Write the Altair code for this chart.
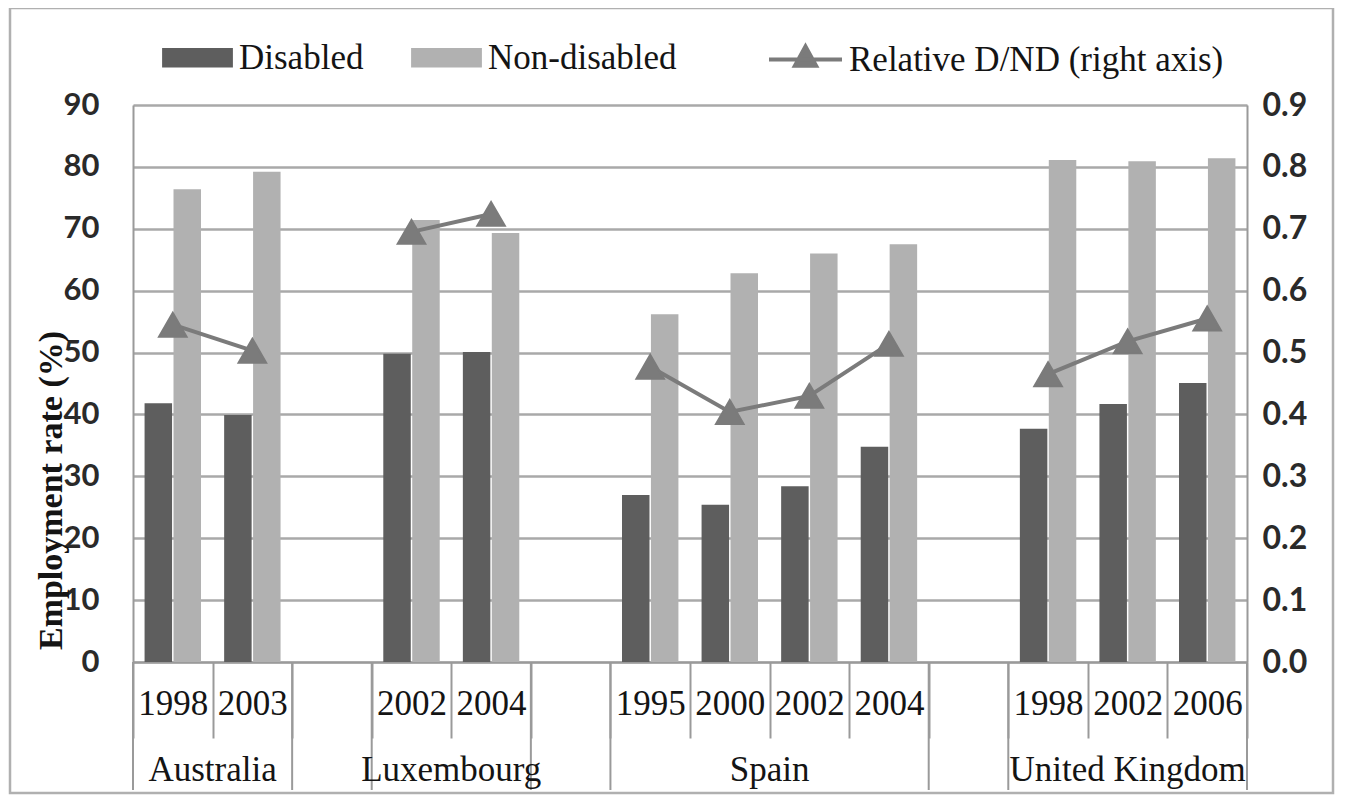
import altair as alt
import pandas as pd

# ---------------- data ----------------
country_order = ["Australia", "Luxembourg", "Spain", "United Kingdom"]
countries = ["Australia", "Australia", "Luxembourg", "Luxembourg",
             "Spain", "Spain", "Spain", "Spain",
             "United Kingdom", "United Kingdom", "United Kingdom"]
years = ["1998", "2003", "2002", "2004", "1995", "2000", "2002", "2004",
         "1998", "2002", "2006"]
disabled = [41.8, 39.9, 49.8, 50.1, 27.0, 25.4, 28.4, 34.8, 37.7, 41.7, 45.1]
non_disabled = [76.4, 79.2, 71.4, 69.3, 56.2, 62.8, 66.0, 67.5, 81.1, 80.9, 81.4]
relative = [0.545, 0.503, 0.695, 0.724, 0.477, 0.404, 0.430, 0.514, 0.465, 0.518, 0.555]

series_names = ["Disabled", "Non-disabled", "Relative D/ND (right axis)"]
series_colors = ["#5e5e5e", "#b1b1b1", "#7b7b7b"]
left_ticks = list(range(0, 91, 10))
right_ticks = [round(i * 0.1, 1) for i in range(10)]

# ---------------- derived tables ----------------
slot_ids = [f"{c}|{y}" for c, y in zip(countries, years)]
slots = []
for i, c in enumerate(country_order):
    slots += [s for s, cc in zip(slot_ids, countries) if cc == c]
    if i < len(country_order) - 1:
        slots.append(f"gap{i}|")

bars_df = pd.DataFrame({
    "slot": slot_ids * 2,
    "series": [series_names[0]] * len(slot_ids) + [series_names[1]] * len(slot_ids),
    "value": disabled + non_disabled,
})
ratio_df = pd.DataFrame({"slot": slot_ids, "country": countries,
                         "series": series_names[2], "relative": relative})

first_slots = [next(s for s, cc in zip(slot_ids, countries) if cc == c) for c in country_order]
gap_slots = [s for s in slots if s.startswith("gap")]
left_edges = pd.DataFrame({"slot": first_slots + gap_slots})
right_edge = pd.DataFrame({"slot": [slots[-1]]})

even_anchor, odd_anchor = [], []
for c in country_order:
    cs = [s for s, cc in zip(slot_ids, countries) if cc == c]
    (even_anchor if len(cs) % 2 == 0 else odd_anchor).append({"slot": cs[len(cs) // 2], "country": c})
even_df = pd.DataFrame(even_anchor)
odd_df = pd.DataFrame(odd_anchor)

# ---------------- styling ----------------
W, H = 1114, 557
GRID = "#a9a9a9"
AX = "#9a9a9a"
SERIF = "Liberation Serif"
SANS = "Lato"
TXT = "#141414"
FS = 35

xscale = alt.Scale(domain=slots, paddingInner=0, paddingOuter=0)

rect_path = "M-0.97,-0.27H0.97V0.27H-0.97Z"
line_path = "M-1,0H1M0,-0.36L0.29,0.17H-0.29Z"

bar_legend = alt.Legend(
    orient="none", legendX=28, legendY=-84, direction="horizontal", title=None,
    labelFont=SERIF, labelFontSize=FS, labelColor=TXT, labelOffset=5, labelLimit=600,
    symbolSize=5329, symbolType=rect_path, symbolStrokeWidth=0, columnPadding=46,
)
line_legend = alt.Legend(
    orient="none", legendX=634, legendY=-84, direction="horizontal", title=None,
    labelFont=SERIF, labelFontSize=FS, labelColor=TXT, labelOffset=5, labelLimit=600,
    symbolSize=5329, symbolType=line_path, symbolStrokeWidth=4,
    symbolFillColor=series_colors[2], symbolStrokeColor=series_colors[2],
)

x_axis = alt.Axis(
    title=None, labelAngle=0,
    labelExpr="split(datum.label, '|')[1]",
    labelFont=SERIF, labelFontSize=FS, labelColor=TXT, labelBaseline="middle",
    labelPadding=-35, labelOverlap=False, labelLimit=200,
    tickBand="extent", tickSize=76, tickColor=AX, tickWidth=2,
    domainColor=AX, domainWidth=2, grid=False,
)


def xenc(band=None):
    kw = dict(scale=xscale, axis=x_axis, sort=slots)
    if band is not None:
        kw["bandPosition"] = band
    return alt.X("slot:N", **kw)


bars = alt.Chart(bars_df).mark_bar().encode(
    x=xenc(),
    xOffset=alt.XOffset("series:N", sort=series_names[:2],
                        scale=alt.Scale(paddingInner=0.05, paddingOuter=0.4)),
    y=alt.Y("value:Q", scale=alt.Scale(domain=[0, 90], nice=False),
            axis=alt.Axis(values=left_ticks, title="Employment rate (%)",
                          titleFont=SERIF, titleFontSize=34, titleFontWeight="bold",
                          titleColor=TXT, titleAngle=270, titleX=-72, titleY=385,
                          titleAlign="center", titleBaseline="alphabetic",
                          labelFont=SANS, labelFontWeight="bold", labelFontSize=31,
                          labelColor="#2a2a2a", labelPadding=34, ticks=False,
                          domainColor=AX, domainWidth=2,
                          grid=True, gridColor=GRID, gridWidth=2.5)),
    color=alt.Color("series:N",
                    scale=alt.Scale(domain=series_names[:2], range=series_colors[:2]),
                    legend=bar_legend),
)

line = alt.Chart(ratio_df).mark_line(
    strokeWidth=4,
    point=alt.OverlayMarkDef(shape="triangle-up", size=760, filled=True,
                             fill=series_colors[2], opacity=1),
).encode(
    x=xenc(),
    y=alt.Y("relative:Q", scale=alt.Scale(domain=[0, 0.9], nice=False),
            axis=alt.Axis(orient="right", values=right_ticks, format=".1f", title=None,
                          labelFont=SANS, labelFontWeight="bold", labelFontSize=32,
                          labelColor="#2a2a2a", labelPadding=15, ticks=False,
                          domainColor=AX, domainWidth=2, grid=False)),
    stroke=alt.Stroke("series:N",
                      scale=alt.Scale(domain=series_names[2:], range=series_colors[2:]),
                      legend=line_legend),
    detail="country:N",
)

sep_left = alt.Chart(left_edges).mark_rule(color=AX, strokeWidth=2).encode(
    x=xenc(0), y=alt.value(H), y2=alt.value(H + 128),
)
sep_right = alt.Chart(right_edge).mark_rule(color=AX, strokeWidth=2).encode(
    x=xenc(1), y=alt.value(H), y2=alt.value(H + 128),
)

label_style = dict(font=SERIF, fontSize=FS, color=TXT, baseline="middle", align="center")
cn_even = alt.Chart(even_df).mark_text(**label_style).encode(
    x=xenc(0), y=alt.value(H + 108), text="country:N",
)
cn_odd = alt.Chart(odd_df).mark_text(**label_style).encode(
    x=xenc(0.5), y=alt.value(H + 108), text="country:N",
)

frame = alt.Chart(pd.DataFrame({"k": [0]})).mark_rect(
    filled=False, stroke="#b0b0b0", strokeWidth=2.5
).encode(
    x=alt.value(-123), x2=alt.value(1200), y=alt.value(-97), y2=alt.value(H + 131),
)

chart = alt.layer(bars, line, sep_left, sep_right, cn_even, cn_odd, frame).resolve_scale(
    y="independent"
).properties(
    width=W, height=H,
    autosize=alt.AutoSizeParams(type="none"),
    padding={"left": 125, "top": 97, "right": 90, "bottom": 134},
).configure_view(stroke=None).configure(background="white")

chart.save("out.html", embed_options={"renderer": "svg", "actions": False})
